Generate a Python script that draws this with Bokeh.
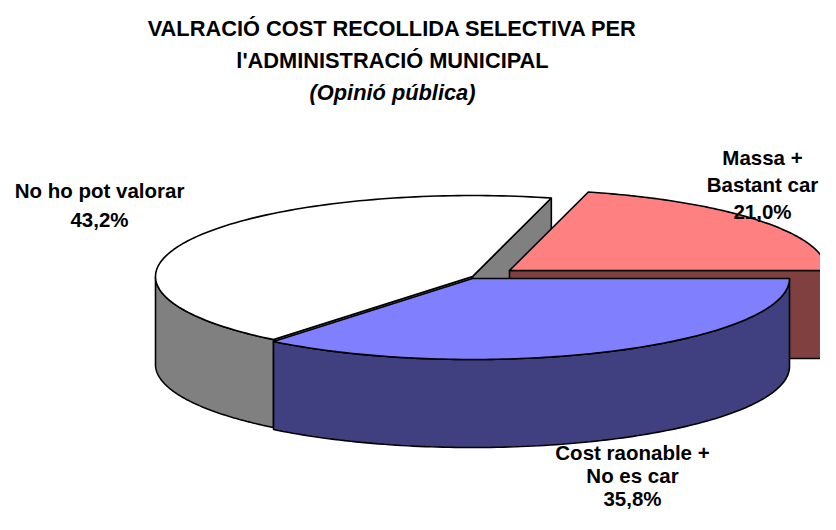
import numpy as np
from bokeh.plotting import figure
from bokeh.models import Range1d
from bokeh.core.properties import value
from bokeh.embed import file_html
from bokeh.resources import INLINE

# ---- data ----
categories = ["Massa + Bastant car", "No ho pot valorar", "Cost raonable + No es car"]
label_lines = [["Massa +", "Bastant car"], ["No ho pot valorar"], ["Cost raonable +", "No es car"]]
values = [21.0, 43.2, 35.8]
title_lines = ["VALRACIÓ COST RECOLLIDA SELECTIVA PER", "l'ADMINISTRACIÓ MUNICIPAL"]
subtitle = "(Opinió pública)"

# ---- styles / layout ----
top_colors = ["#FF8080", "#FFFFFF", "#8080FF"]
side_colors = ["#804040", "#808080", "#404080"]
CX, CY = 472.0, 276.0
RX, RY = 317.0, 81.0
DEPTH = 88.0
offsets = [(37.0, -6.0), (0.0, 0.0), (0.0, 2.0)]
label_pos = [(762, 157), (99, 190), (632, 452)]
label_step = [27.0, 29.0, 23.0]
FONT = "Liberation Sans"
LBL_SIZE = "20.5px"
TITLE_SIZE = "21.8px"

W, H = 820, 514
p = figure(width=W, height=H, output_backend="svg", toolbar_location=None,
           x_range=Range1d(0, W), y_range=Range1d(H, 0),
           min_border=0)
p.axis.visible = False
p.grid.visible = False
p.outline_line_color = None
p.background_fill_color = "white"
p.border_fill_color = "white"

total = sum(values)
angles = np.cumsum([0.0] + [v / total * 360.0 for v in values])

def pt(cx, cy, a_deg):
    a = np.radians(a_deg)
    return cx + RX * np.cos(a), cy - RY * np.sin(a)

def arc(cx, cy, a1, a2, dy=0.0, n=120):
    t = np.linspace(a1, a2, n)
    r = np.radians(t)
    return list(cx + RX * np.cos(r)), list(cy - RY * np.sin(r) + dy)

LW = 1.6
# painter's order: back-left (white), back-right (pink), front (blue)
order = [1, 0, 2]
for i in order:
    a1, a2 = angles[i], angles[i + 1]
    cx, cy = CX + offsets[i][0], CY + offsets[i][1]
    # radial faces facing the viewer
    for a, vis in ((a1, np.cos(np.radians(a1)) > 1e-6), (a2, np.cos(np.radians(a2)) < -1e-6)):
        if vis:
            ex, ey = pt(cx, cy, a)
            xs = [cx, ex, ex, cx]
            ys = [cy, ey, ey + DEPTH, cy + DEPTH]
            p.patch(xs, ys, fill_color=side_colors[i], line_color="black", line_width=LW)
    # curved side (front half: 180..360)
    lo, hi = max(a1, 180.0), min(a2, 360.0)
    if hi > lo:
        tx, ty = arc(cx, cy, lo, hi)
        bx, by = arc(cx, cy, lo, hi, DEPTH)
        p.patch(tx + bx[::-1], ty + by[::-1], fill_color=side_colors[i],
                line_color="black", line_width=LW)
    # top
    tx, ty = arc(cx, cy, a1, a2)
    p.patch([cx] + tx, [cy] + ty, fill_color=top_colors[i],
            line_color="black", line_width=LW, line_join="round")

# labels
for i in range(3):
    lx, ly = label_pos[i]
    pct = f"{values[i]:.1f}".replace(".", ",") + "%"
    lines = label_lines[i] + [pct]
    for k, s in enumerate(lines):
        p.text(x=[lx], y=[ly + k * label_step[i]], text=[s],
               text_font=value(FONT), text_font_size=LBL_SIZE, text_font_style="bold",
               text_align="center", text_baseline="middle", text_color="black")

# title
for k, s in enumerate(title_lines):
    p.text(x=[392], y=[28 + 32 * k], text=[s], text_font=value(FONT),
           text_font_size=TITLE_SIZE, text_font_style="bold",
           text_align="center", text_baseline="middle", text_color="black")
p.text(x=[392], y=[92], text=[subtitle], text_font=value(FONT),
       text_font_size=TITLE_SIZE, text_font_style="bold italic",
       text_align="center", text_baseline="middle", text_color="black")

open("out.html", "w").write(file_html(p, INLINE))
